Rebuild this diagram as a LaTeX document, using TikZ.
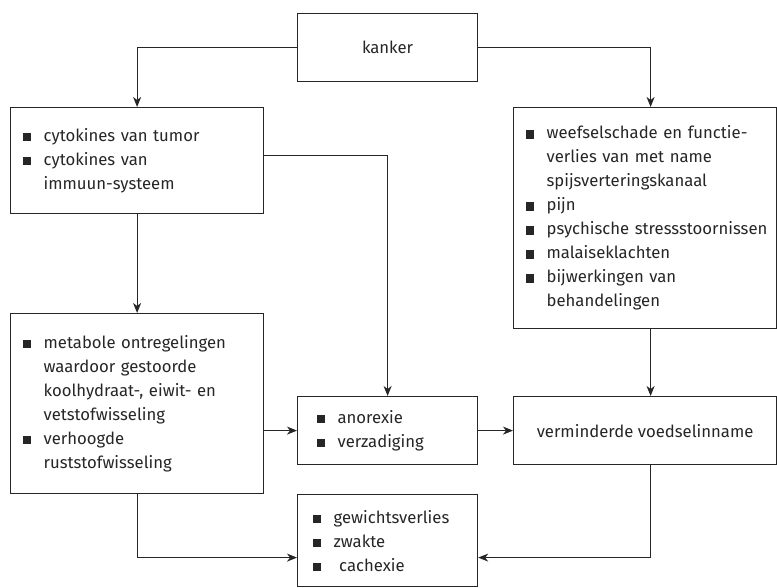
\documentclass[tikz,border=0pt]{standalone}
\usepackage{fontspec}
\setmainfont{Fira Sans}
\usetikzlibrary{arrows.meta,calc}
\hyphenpenalty=10000
\exhyphenpenalty=10000
\newcommand\bul{\makebox[21bp][l]{\rule{8.5bp}{8.5bp}}}
\newcommand\ind{\hspace*{21bp}}
\begin{document}
\begin{tikzpicture}[x=1bp,y=-1bp,
  box/.style={draw=black!85, line width=1.2bp, inner ysep=0pt, anchor=north west, align=left,
    font=\fontsize{16.7bp}{24bp}\selectfont, text=black!85},
  arr/.style={draw=black!85, line width=1.2bp, -{Stealth[length=10bp,width=8bp,inset=3bp]}}]
\useasboundingbox (0,0) rectangle (777,588);
\node[box, align=center, minimum width=180bp, minimum height=68bp, inner xsep=0pt] (K) at (297,13) {kanker};
\node[box, text width=229bp, inner xsep=12bp, minimum height=106bp] (A) at (10,107)
  {\bul cytokines van tumor\\ \bul cytokines van\\ \ind immuun-systeem};
\node[box, text width=239bp, inner xsep=12bp, minimum height=221bp] (R) at (513,107)
  {\bul \mbox{weefselschade en functie-}\\ \ind verlies van met name\\ \ind spijsverteringskanaal\\ \bul pijn\\ \bul \mbox{psychische stressstoornissen}\\ \bul malaiseklachten\\ \bul bijwerkingen van\\ \ind behandelingen};
\node[box, text width=229bp, inner xsep=12bp, minimum height=180bp] (M) at (10,313)
  {\bul metabole ontregelingen\\ \ind waardoor gestoorde\\ \ind koolhydraat-, eiwit- en\\ \ind vetstofwisseling\\ \bul verhoogde\\ \ind ruststofwisseling};
\node[box, text width=142bp, inner xsep=19bp, minimum height=68bp] (N) at (297,396)
  {\bul anorexie\\ \bul verzadiging};
\node[box, align=center, minimum width=263bp, minimum height=68bp, inner xsep=0pt] (V) at (513,396)
  {verminderde voedselinname};
\node[box, text width=150bp, inner xsep=15bp, minimum height=92bp] (G) at (297,494)
  {\bul gewichtsverlies\\ \bul zwakte\\ \bul\ cachexie};
\draw[arr] (K.west) -| (A.north);
\draw[arr] (K.east) -| ($(R.north)+(5.5,0)$);
\draw[arr] ($(A.east)+(0,-5)$) -| (N.north);
\draw[arr] (A.south) -- (M.north);
\draw[arr] (M.east |- N.west) -- (N.west);
\draw[arr] (N.east) -- (V.west);
\draw[arr] ($(R.south)+(5.5,0)$) -- ($(V.north)+(5.5,0)$);
\draw[arr] (M.south) |- ($(G.west)+(0,17)$);
\draw[arr] ($(V.south)+(5.5,0)$) |- ($(G.east)+(0,17)$);
\end{tikzpicture}
\end{document}
